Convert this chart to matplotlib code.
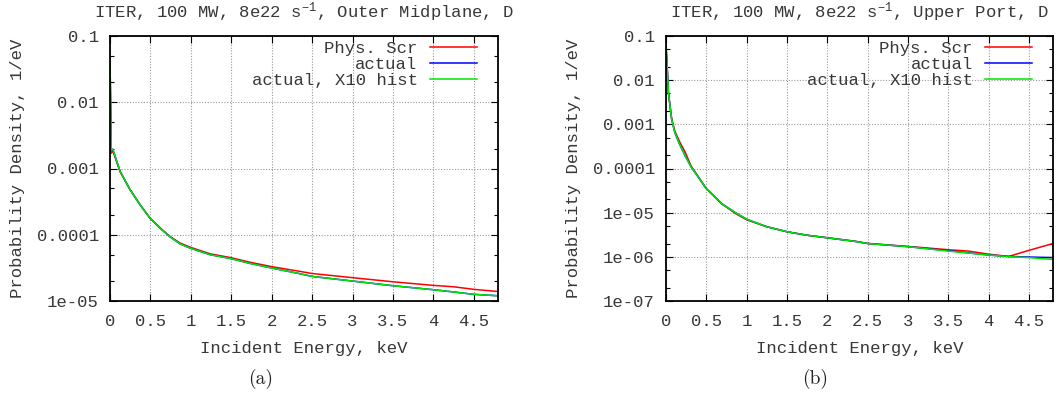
import numpy as np
import matplotlib
matplotlib.use("Agg")
import matplotlib.pyplot as plt
from matplotlib.ticker import FixedLocator, LogLocator, NullFormatter

plt.rcParams['font.family'] = ['Liberation Mono', 'DejaVu Sans Mono']
plt.rcParams['mathtext.fontset'] = 'custom'
plt.rcParams['mathtext.rm'] = 'Liberation Mono'
plt.rcParams['mathtext.it'] = 'Liberation Mono'

# ---- panel (a): Outer Midplane ----
e_a = [0.0, 0.015, 0.035, 0.124, 0.248, 0.371, 0.495, 0.619, 0.743, 0.866, 0.99,
       1.24, 1.5, 1.73, 2.0, 2.35, 2.5, 3.0, 3.5, 4.0, 4.25, 4.5, 4.8]
scr_a = [0.045, 0.0017, 0.00185, 9.0e-4, 4.8e-4, 2.85e-4, 1.78e-4, 1.27e-4, 9.4e-5, 7.5e-5, 6.5e-5,
         5.15e-5, 4.5e-5, 3.85e-5, 3.3e-5, 2.8e-5, 2.6e-5, 2.25e-5, 1.95e-5, 1.72e-5, 1.64e-5, 1.5e-5, 1.39e-5]
act_a = [0.045, 0.0019, 0.00195, 9.1e-4, 4.8e-4, 2.85e-4, 1.78e-4, 1.26e-4, 9.3e-5, 7.3e-5, 6.3e-5,
         5.0e-5, 4.36e-5, 3.7e-5, 3.15e-5, 2.58e-5, 2.35e-5, 2.0e-5, 1.7e-5, 1.48e-5, 1.37e-5, 1.26e-5, 1.2e-5]
x10_a = [0.045, 0.0019, 0.00195, 9.1e-4, 4.8e-4, 2.85e-4, 1.78e-4, 1.26e-4, 9.3e-5, 7.3e-5, 6.3e-5,
         5.0e-5, 4.36e-5, 3.7e-5, 3.15e-5, 2.58e-5, 2.35e-5, 2.0e-5, 1.7e-5, 1.48e-5, 1.37e-5, 1.26e-5, 1.2e-5]

# ---- panel (b): Upper Port ----
e_b = [0.0, 0.012, 0.03, 0.07, 0.11, 0.17, 0.24, 0.31, 0.5, 0.69, 0.86, 1.0,
       1.25, 1.5, 1.74, 2.0, 2.35, 2.5, 3.0, 3.5, 3.75, 4.0, 4.25, 4.5, 4.8]
scr_b = [0.06, 0.025, 0.0052, 1.35e-3, 7.0e-4, 4.0e-4, 2.3e-4, 1.15e-4, 3.5e-5, 1.6e-5, 9.6e-6, 6.9e-6,
         4.8e-6, 3.7e-6, 3.1e-6, 2.7e-6, 2.25e-6, 2.02e-6, 1.72e-6, 1.45e-6, 1.35e-6, 1.15e-6, 1.02e-6, 1.4e-6, 2.0e-6]
act_b = [0.06, 0.025, 0.0052, 1.3e-3, 6.5e-4, 3.5e-4, 1.9e-4, 1.1e-4, 3.5e-5, 1.6e-5, 1.0e-5, 7.1e-6,
         4.8e-6, 3.7e-6, 3.1e-6, 2.7e-6, 2.23e-6, 2.0e-6, 1.7e-6, 1.38e-6, 1.23e-6, 1.1e-6, 1.02e-6, 0.99e-6, 0.96e-6]
x10_b = [0.06, 0.025, 0.0052, 1.3e-3, 6.5e-4, 3.5e-4, 1.9e-4, 1.1e-4, 3.5e-5, 1.6e-5, 1.0e-5, 7.1e-6,
         4.8e-6, 3.7e-6, 3.1e-6, 2.7e-6, 2.23e-6, 2.0e-6, 1.7e-6, 1.35e-6, 1.22e-6, 1.1e-6, 1.01e-6, 0.96e-6, 0.87e-6]

xticks = [0, 0.5, 1, 1.5, 2, 2.5, 3, 3.5, 4, 4.5]
xticklabels = ["0", "0.5", "1", "1.5", "2", "2.5", "3", "3.5", "4", "4.5"]
yticks_a = [1e-1, 1e-2, 1e-3, 1e-4, 1e-5]
yticklabels_a = ["0.1", "0.01", "0.001", "0.0001", "1e-05"]
yticks_b = [1e-1, 1e-2, 1e-3, 1e-4, 1e-5, 1e-6, 1e-7]
yticklabels_b = ["0.1", "0.01", "0.001", "0.0001", "1e-05", "1e-06", "1e-07"]

W, H = 1061, 396
fig = plt.figure(figsize=(W / 100, H / 100), dpi=100)
txt = '#383838'
fs = 12.4


def panel(rect, e, scr, act, x10, yticks, ylabels, where, caption, cap_x):
    ax = fig.add_axes(rect)
    ax.plot(e, scr, color='#ff0000', lw=1.1, label='Phys. Scr')
    ax.plot(e, act, color='#0000ff', lw=1.1, label='actual')
    ax.plot(e, x10, color='#00e600', lw=1.1, label='actual, X10 hist')
    ax.set_yscale('log')
    ax.set_xlim(0, 4.8)
    ax.set_ylim(yticks[-1], yticks[0])
    ax.set_xticks(xticks)
    ax.set_xticklabels(xticklabels)
    ax.yaxis.set_major_locator(FixedLocator(yticks))
    ax.set_yticklabels(ylabels)
    ax.yaxis.set_minor_locator(LogLocator(base=10, subs=(2.0, 5.0), numticks=20))
    ax.yaxis.set_minor_formatter(NullFormatter())
    ax.tick_params(which='both', direction='in', top=True, right=True,
                   labelsize=fs, labelcolor=txt, width=0.8)
    ax.tick_params(which='major', length=5)
    ax.tick_params(which='minor', length=3)
    ax.tick_params(axis='x', pad=9)
    ax.tick_params(axis='y', pad=8)
    ax.grid(True, which='major', color='#9a9a9a', lw=0.8, linestyle=(0, (1, 1.5)))
    for s in ax.spines.values():
        s.set_linewidth(1.3)
    ax.set_title("ITER, 100 MW, 8e22 s$^{-1}$, " + where, fontsize=fs, color=txt, pad=13)
    ax.set_xlabel("Incident Energy, keV", fontsize=fs, color=txt)
    ax.set_ylabel("Probability Density, 1/eV", fontsize=fs, color=txt)
    ax.xaxis.set_label_coords(0.5, -0.18)
    ax.xaxis.label.set_va('center')
    ax.yaxis.set_label_coords(-0.238, 0.5)
    ax.yaxis.label.set_va('center')
    leg = ax.legend(loc='upper right', bbox_to_anchor=(1 - 21 / 388, 1 - 5 / 265),
                    frameon=False, markerfirst=False, fontsize=fs, handlelength=2.75,
                    handletextpad=0.7, labelspacing=0.05, borderpad=0, borderaxespad=0)
    for t in leg.get_texts():
        t.set_color(txt)
    for col in leg._legend_handle_box.get_children():
        col.align = 'right'
    fig.text(cap_x / W, 1 - 379 / H, caption, fontsize=14, family='cmr10',
             ha='center', va='center', color='#222222')
    return ax


bottom = 1 - 301 / H
height = 265 / H
panel([110 / W, bottom, 388 / W, height], e_a, scr_a, act_a, x10_a,
      yticks_a, yticklabels_a, "Outer Midplane, D", "(a)", 261)
panel([666 / W, bottom, 387 / W, height], e_b, scr_b, act_b, x10_b,
      yticks_b, yticklabels_b, "Upper Port, D", "(b)", 815)

fig.savefig("out.png", dpi=100)
